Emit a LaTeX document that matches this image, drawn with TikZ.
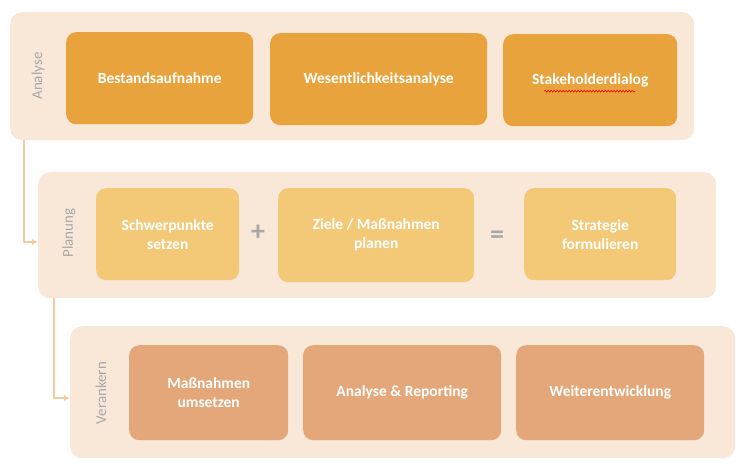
\documentclass[tikz,border=0pt]{standalone}
\usepackage{fontspec}
\setmainfont{Carlito}
\usetikzlibrary{arrows.meta,decorations.pathmorphing}
\definecolor{band}{HTML}{F9E7D8}
\definecolor{orA}{HTML}{E8A33D}
\definecolor{orB}{HTML}{F3C978}
\definecolor{orC}{HTML}{E4A779}
\definecolor{conn}{HTML}{F4CB9E}
\definecolor{lbl}{HTML}{A8A8A8}
\tikzset{
 bandbox/.style={fill=band,rounded corners=12pt,draw=none},
 cardbox/.style={rounded corners=10pt,draw=none,text=white,align=center,font=\fontsize{15.5}{19}\selectfont\bfseries},
 bandlbl/.style={rotate=90,text=lbl,font=\fontsize{15}{18}\selectfont},
 conline/.style={draw=conn,line width=1.6pt,-{Latex[length=6pt,width=6pt]}},
 opsym/.style={text=lbl,font=\fontsize{28}{28}\selectfont\bfseries}
}
\begin{document}
\begin{tikzpicture}[x=1pt,y=-1pt]
\useasboundingbox (0,0) rectangle (754,472);
\fill[white] (0,0) rectangle (754,472);
% bands
\node[bandbox,minimum width=684pt,minimum height=128pt,anchor=north west] (b1) at (10,12) {};
\node[bandbox,minimum width=678pt,minimum height=126pt,anchor=north west] (b2) at (38,172) {};
\node[bandbox,minimum width=665pt,minimum height=132pt,anchor=north west] (b3) at (70,326) {};
% connectors
\coordinate (c1) at (24,140);
\coordinate (c2) at (54,298);
\draw[conline] (c1) -- (24,242) -- (b2.west |- 0,242);
\draw[conline] (c2) -- (54,398) -- (b3.west |- 0,398);
% labels
\node[bandlbl] (l1) at (38,76) {Analyse};
\node[bandlbl] (l2) at (69,233) {Planung};
\node[bandlbl] (l3) at (101,393) {Verankern};
% row 1
\node[cardbox,fill=orA,minimum width=187pt,minimum height=92pt,anchor=north west] (a1) at (66,32) {Bestandsaufnahme};
\node[cardbox,fill=orA,minimum width=217pt,minimum height=92pt,anchor=north west] (a2) at (270,33) {Wesentlichkeitsanalyse};
\node[cardbox,fill=orA,minimum width=174pt,minimum height=92pt,anchor=north west] (a3) at (503,34) {Stakeholderdialog};
\draw[red,line width=0.6pt,decorate,decoration={snake,amplitude=0.8pt,segment length=3pt}] ([xshift=-46pt,yshift=-11pt]a3.center) -- ([xshift=45pt,yshift=-11pt]a3.center);
% row 2
\node[cardbox,fill=orB,minimum width=143pt,minimum height=92pt,anchor=north west] (p1) at (96,188) {Schwerpunkte\\setzen};
\node[cardbox,fill=orB,minimum width=196pt,minimum height=94pt,anchor=north west] (p2) at (278,188) {Ziele / Maßnahmen\\planen};
\node[cardbox,fill=orB,minimum width=152pt,minimum height=92pt,anchor=north west] (p3) at (524,188) {Strategie\\formulieren};
\node[opsym] (plus) at (258,233) {+};
\node[opsym] (eq) at (497,237) {=};
% row 3
\node[cardbox,fill=orC,minimum width=159pt,minimum height=95pt,anchor=north west] (v1) at (129,345) {Maßnahmen\\umsetzen};
\node[cardbox,fill=orC,minimum width=198pt,minimum height=95pt,anchor=north west] (v2) at (303,345) {Analyse \& Reporting};
\node[cardbox,fill=orC,minimum width=188pt,minimum height=95pt,anchor=north west] (v3) at (516,345) {Weiterentwicklung};
\end{tikzpicture}
\end{document}
